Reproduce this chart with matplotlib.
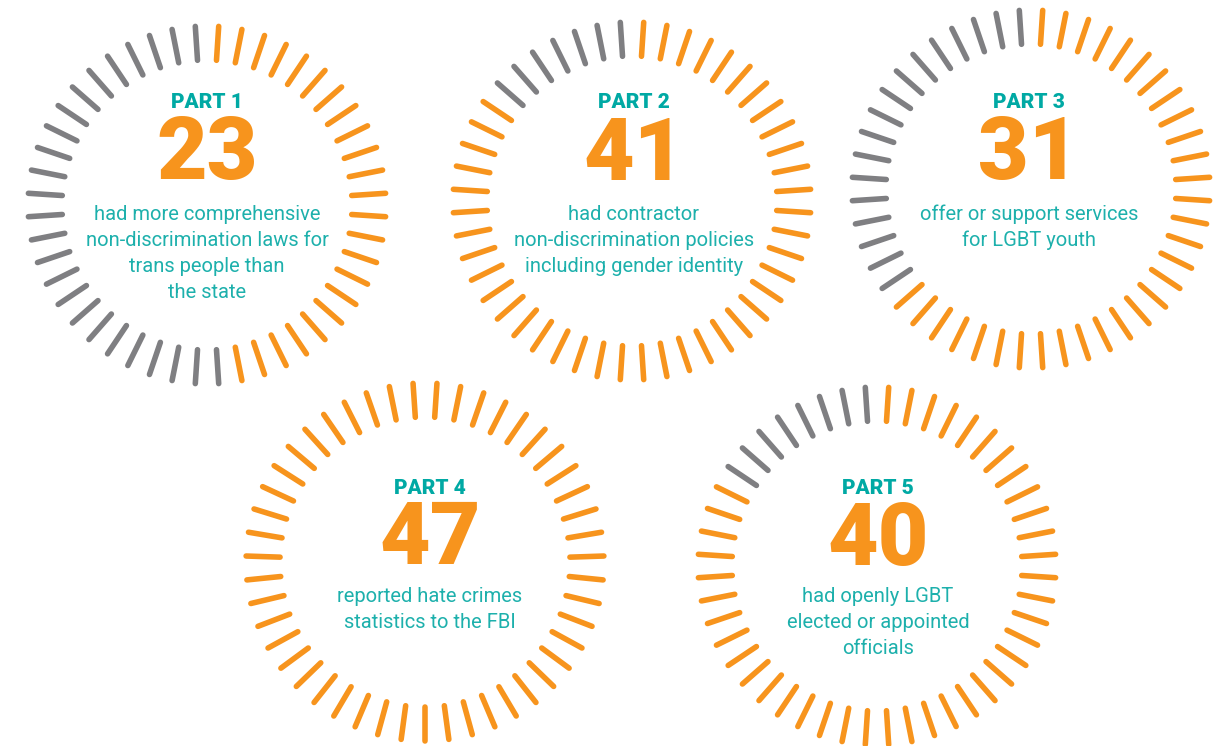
import matplotlib
matplotlib.use("Agg")
import matplotlib.pyplot as plt
import numpy as np

# ---- data ----
parts = ["PART 1", "PART 2", "PART 3", "PART 4", "PART 5"]
values = [23, 41, 31, 47, 40]
total_ticks = [48, 48, 48, 47, 48]
descriptions = [
    "had more comprehensive\nnon-discrimination laws for\ntrans people than\nthe state",
    "had contractor\nnon-discrimination policies\nincluding gender identity",
    "offer or support services\nfor LGBT youth",
    "reported hate crimes\nstatistics to the FBI",
    "had openly LGBT\nelected or appointed\nofficials",
]

# ---- layout (pixel coordinates) ----
centers = [(207, 205), (632, 201), (1031, 189), (425, 562), (877, 566)]
text_x = [207, 634, 1029, 430, 878]
row_part_y = [102, 102, 102, 488, 488]
row_num_y = [156, 156, 156, 541, 541]
row_desc_y = [212, 212, 212, 594, 594]

ORANGE = "#F7941D"
GRAY = "#7F7F82"
TEAL = "#00A9A4"
TEAL_LIGHT = "#1DB0AC"

W, H = 1222, 746
fig = plt.figure(figsize=(W / 100, H / 100), dpi=100)
ax = fig.add_axes([0, 0, 1, 1])
ax.set_xlim(0, W)
ax.set_ylim(H, 0)
ax.axis("off")

r_out, r_in = 179, 145
for k, (cx, cy) in enumerate(centers):
    n = total_ticks[k]
    for i in range(n):
        ang = np.deg2rad(90 - (i + 0.5) * 360 / n)
        col = ORANGE if i < values[k] else GRAY
        x0 = cx + r_in * np.cos(ang)
        y0 = cy - r_in * np.sin(ang)
        x1 = cx + r_out * np.cos(ang)
        y1 = cy - r_out * np.sin(ang)
        ax.plot([x0, x1], [y0, y1], color=col, lw=4.0, solid_capstyle="round")

    tx = text_x[k]
    ax.text(tx, row_part_y[k], parts[k], color=TEAL, fontsize=15, fontweight="heavy",
            family=["Roboto", "DejaVu Sans"], ha="center", va="center")
    ax.text(tx, row_num_y[k], str(values[k]), color=ORANGE, fontsize=63, fontweight="heavy",
            family=["Roboto", "DejaVu Sans"], ha="center", va="center")
    lines = descriptions[k].split("\n")
    for j, line in enumerate(lines):
        ax.text(tx, row_desc_y[k] + 26 * j, line, color=TEAL_LIGHT, fontsize=14.5,
                fontweight="normal", family=["Roboto", "DejaVu Sans"], ha="center",
                va="center_baseline")

fig.savefig("out.png", dpi=100, facecolor="white")
